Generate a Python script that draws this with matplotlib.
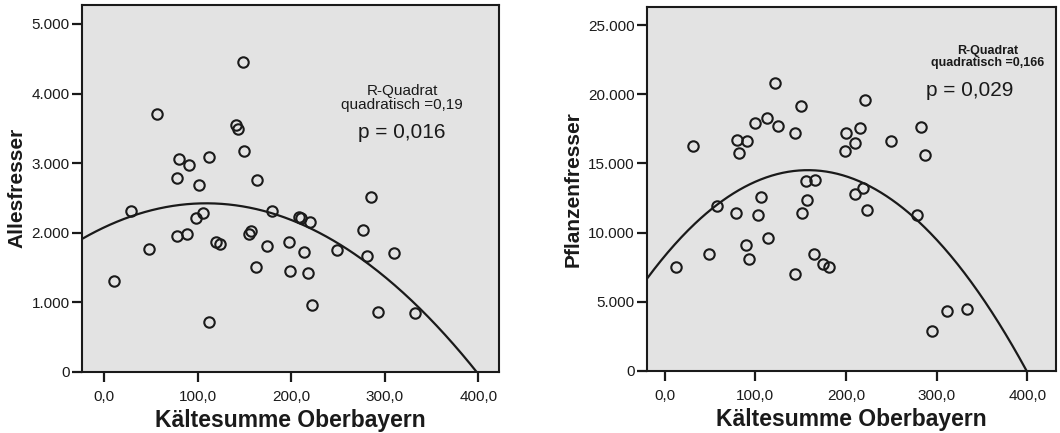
import numpy as np
import matplotlib
matplotlib.use("Agg")
import matplotlib.pyplot as plt
from matplotlib.ticker import FuncFormatter

plt.rcParams['font.family'] = ['Liberation Sans', 'DejaVu Sans']

# Kältesumme vs. Allesfresser
kalt_alles = [10.3, 28.5, 47.4, 56.0, 80.2, 78.0, 77.4, 90.6, 88.0, 97.7,
              101.6, 105.2, 111.9, 112.3, 119.0, 123.7, 140.8, 142.6, 148.0, 149.7,
              156.5, 154.7, 162.9, 162.6, 174.0, 179.3, 197.9, 198.2, 207.8, 210.0,
              213.9, 219.6, 218.2, 221.7, 248.8, 276.6, 285.6, 281.3, 293.0, 310.2,
              332.6]
alles = [1309, 2311, 1764, 3701, 3054, 2790, 1946, 2977, 1975, 2205,
         2680, 2287, 3087, 710, 1860, 1831, 3548, 3485, 4458, 3174,
         2028, 1975, 2761, 1505, 1803, 2311, 1860, 1443, 2224, 2210,
         1726, 2157, 1414, 959, 1750, 2042, 2512, 1659, 863, 1702,
         839]

# Kältesumme vs. Pflanzenfresser
kalt_pflanz = [12.9, 30.9, 48.9, 58.1, 79.5, 82.1, 79.1, 90.5, 90.2, 92.7,
               99.7, 103.4, 106.7, 113.3, 114.1, 121.4, 125.1, 144.3, 143.5, 150.1,
               152.0, 157.1, 156.0, 165.6, 164.5, 175.2, 181.0, 199.1, 199.8, 209.8,
               210.5, 216.0, 219.0, 221.5, 223.4, 250.2, 277.8, 282.6, 286.7, 294.4,
               310.9, 333.8]
pflanz = [7546, 16273, 8438, 11933, 16683, 15743, 11451, 16635, 9089, 8124,
          17888, 11258, 12560, 18298, 9595, 20781, 17695, 17213, 7040, 19142,
          11427, 12367, 13717, 13790, 8462, 7715, 7522, 15887, 17165, 16442,
          12777, 17551, 13235, 19576, 11620, 16587, 11307, 17599, 15598, 2869,
          4315, 4460]

# quadratische Anpassung (a, b, c)
fit_alles = [-0.02899, 6.320, 2076.6]
fit_pflanz = [-0.24925, 78.76, 8290.7]

panels = [
    dict(x=kalt_alles, y=alles, fit=fit_alles, ylabel='Allesfresser',
         rect=[0.0774, 0.1416, 0.3937, 0.8469], xlim=(-23.9, 422.5), ylim=(0, 5273),
         yticks=[0, 1000, 2000, 3000, 4000, 5000],
         r2='R-Quadrat\nquadratisch =0,19', r2_pos=(318.4, 3936), r2_size=11, r2_weight='normal',
         p='p = 0,016', p_pos=(318.4, 3433), ylab_x=-0.156),
    dict(x=kalt_pflanz, y=pflanz, fit=fit_pflanz, ylabel='Pflanzenfresser',
         rect=[0.6106, 0.1432, 0.3857, 0.8406], xlim=(-19.1, 431.7), ylim=(0, 26302),
         yticks=[0, 5000, 10000, 15000, 20000, 25000],
         r2='R-Quadrat\nquadratisch =0,166', r2_pos=(356.6, 22686), r2_size=9, r2_weight='bold',
         p='p = 0,029', p_pos=(336.7, 20300), ylab_x=-0.1815),
]

ink = '#1a1a1a'
fig = plt.figure(figsize=(10.6, 4.33), dpi=100)

for pn in panels:
    ax = fig.add_axes(pn['rect'])
    ax.set_facecolor('#e3e3e3')
    for s in ax.spines.values():
        s.set_color(ink)
        s.set_linewidth(1.5)

    xs = np.linspace(pn['xlim'][0], pn['xlim'][1], 300)
    ax.plot(xs, np.polyval(pn['fit'], xs), color=ink, lw=1.6, zorder=2)
    ax.plot(pn['x'], pn['y'], 'o', mfc='none', mec=ink, ms=7.5, mew=1.5, zorder=3)

    ax.set_xlim(pn['xlim'])
    ax.set_ylim(pn['ylim'])
    ax.set_xticks([0, 100, 200, 300, 400])
    ax.set_yticks(pn['yticks'])
    ax.xaxis.set_major_formatter(FuncFormatter(lambda v, _: f'{v:.1f}'.replace('.', ',')))
    ax.yaxis.set_major_formatter(FuncFormatter(lambda v, _: f'{int(v):,}'.replace(',', '.')))
    ax.tick_params(direction='out', length=7, width=1.6, color=ink, labelcolor=ink, labelsize=11)
    ax.tick_params(axis='x', pad=6)
    ax.tick_params(axis='y', pad=2)

    ax.set_xlabel('Kältesumme Oberbayern', fontsize=16.5, fontweight='bold', color=ink, va='center')
    ax.xaxis.set_label_coords(0.5, -0.132)
    ax.set_ylabel(pn['ylabel'], fontsize=15, fontweight='bold', color=ink, va='center')
    ax.yaxis.set_label_coords(pn['ylab_x'], 0.5)

    ax.text(*pn['r2_pos'], pn['r2'], ha='center', va='center', fontsize=pn['r2_size'],
            fontweight=pn['r2_weight'], color=ink, linespacing=1.0)
    ax.text(*pn['p_pos'], pn['p'], ha='center', va='center', fontsize=15, color=ink)

fig.savefig('out.png', dpi=100)
